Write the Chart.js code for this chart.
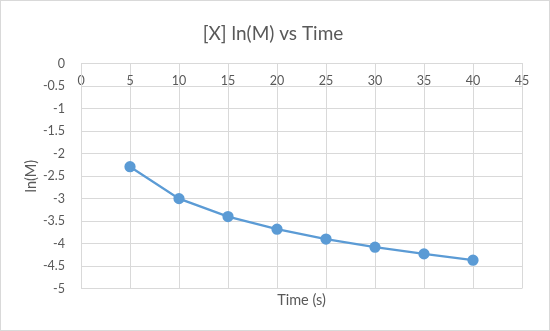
<!DOCTYPE html>
<html>
<head>
<meta charset="utf-8">
<script src="https://cdn.jsdelivr.net/npm/chart.js@4/dist/chart.umd.min.js"></script>
<style>
  html, body { margin: 0; padding: 0; background: #fff; }
  canvas { display: block; }
</style>
</head>
<body>
<canvas id="chartOne" width="550" height="331"></canvas>
<script>
// time in seconds and ln of concentration
const times = [5, 10, 15, 20, 25, 30, 35, 40];
const lnM = [-2.29, -3.0, -3.4, -3.68, -3.9, -4.08, -4.23, -4.37];

const textGrey = '#595959';
const gridGrey = '#d9d9d9';
const lineBlue = '#5b9bd5';

// thin frame round the whole chart
const frame = {
  id: 'frame',
  afterDraw: (chart) => {
    let ctx = chart.ctx;
    ctx.save();
    ctx.strokeStyle = gridGrey;
    ctx.lineWidth = 1;
    ctx.strokeRect(0.5, 0.5, chart.width - 1, chart.height - 1);
    ctx.restore();
  }
};

let ctx = document.getElementById('chartOne').getContext('2d');

let myChart = new Chart(ctx, {
  type: 'scatter',
  data: {
    datasets: [{
      data: times.map((t, i) => ({ x: t, y: lnM[i] })),
      showLine: true,
      borderColor: lineBlue,
      backgroundColor: lineBlue,
      borderWidth: 2.25,
      pointRadius: 4.5,
      pointHoverRadius: 4.5
    }]
  },
  options: {
    responsive: false,
    animation: false,
    layout: {
      padding: { left: 24, right: 28, top: 0, bottom: 0 }
    },
    plugins: {
      legend: { display: false },
      tooltip: { enabled: false },
      title: {
        display: true,
        text: '[X] ln(M) vs Time',
        color: textGrey,
        font: { family: 'Lato', size: 19, weight: 'normal' },
        padding: { top: 22, bottom: 19 }
      }
    },
    scales: {
      x: {
        type: 'linear',
        position: { y: 0 },
        min: 0,
        max: 45,
        ticks: {
          stepSize: 5,
          color: textGrey,
          padding: 10,
          font: { family: 'Lato', size: 12.5 }
        },
        grid: { color: gridGrey, drawTicks: false },
        border: { color: gridGrey }
      },
      xTitle: {
        type: 'linear',
        position: 'bottom',
        grid: { display: false },
        ticks: { display: false },
        border: { display: false },
        title: {
          display: true,
          text: 'Time (s)',
          color: textGrey,
          font: { family: 'Lato', size: 14.5 },
          padding: { top: 0, bottom: 22 }
        },
        afterFit: (scale) => { scale.height = 42.5; }
      },
      y: {
        min: -5,
        max: 0,
        ticks: {
          stepSize: 0.5,
          color: textGrey,
          padding: 16,
          font: { family: 'Lato', size: 12.5 },
          callback: (v) => String(v)
        },
        grid: { color: gridGrey, drawTicks: false },
        border: { color: gridGrey },
        title: {
          display: true,
          text: 'ln(M)',
          color: textGrey,
          font: { family: 'Lato', size: 14.5 },
          padding: { top: -1, bottom: 0 }
        },
        afterFit: (scale) => { scale.width = 57; }
      }
    }
  },
  plugins: [frame]
});
</script>
</body>
</html>
